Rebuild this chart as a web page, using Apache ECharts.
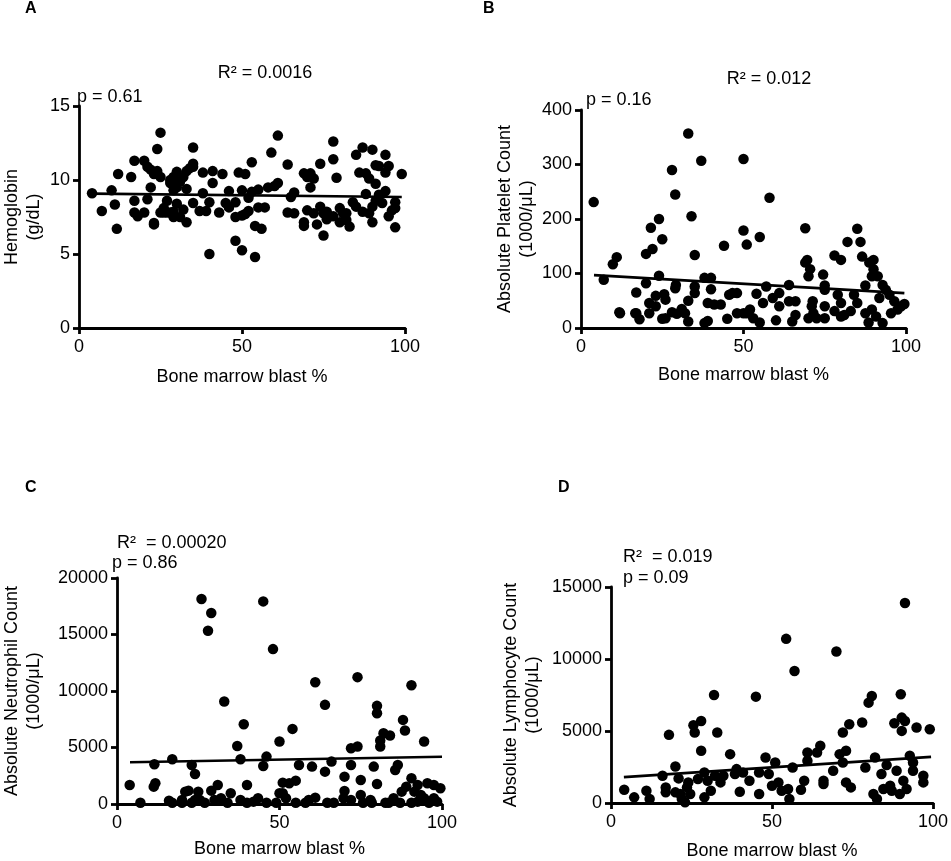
<!DOCTYPE html>
<html><head><meta charset="utf-8">
<script src="https://cdn.jsdelivr.net/npm/echarts@6/dist/echarts.min.js"></script>
<style>html,body{margin:0;padding:0;background:#fff}#c{width:951px;height:861px}</style>
</head><body><div id="c"></div>
<script>
// ---- Data ----
const xTicks = [0, 50, 100];
const hemoglobin = [[4,9.1],[7,7.9],[10,9.3],[11,8.35],[12,10.4],[11.6,6.7],[16,10.2],[17,11.3],[17,8.6],[17,7.8],[18,7.55],[20,7.8],[20,11.3],[21,10.9],[21,8.7],[22,9.5],[22,10.7],[23,10.4],[23,7.1],[23,7.0],[24,12.1],[24,10.6],[25,13.2],[25,10.2],[25,7.8],[26,7.8],[26,8.1],[27,8.6],[27,7.8],[28,7.8],[28,9.8],[29,7.85],[29,7.5],[29,10.2],[29,9.3],[30,10.55],[30,8.4],[30,9.5],[31,7.5],[32,8.0],[32,10.2],[33,7.15],[33,9.4],[33,10.6],[34,10.8],[35,11.1],[35,12.2],[35,8.45],[35,10.9],[37,7.9],[38,10.5],[38,9.1],[39,7.9],[40,8.5],[40,5.0],[41,10.6],[41,9.8],[43,7.8],[44,10.4],[45,8.45],[46,9.25],[46,8.15],[48,8.5],[48,7.5],[48,5.9],[49,10.5],[50,9.3],[50,7.6],[50,5.25],[51,10.4],[51,7.7],[52,7.9],[52,8.8],[53,11.2],[53,9.2],[54,6.9],[54,4.8],[55,9.35],[55,8.15],[56,6.7],[57,8.15],[58,9.5],[59,11.85],[60,9.6],[61,9.8],[61,13.0],[64,11.05],[64,7.8],[65,8.85],[66,9.15],[66,7.75],[69,10.45],[69,7.15],[69,6.9],[70,7.95],[70,10.2],[71,9.5],[71,10.45],[72,10.1],[72,7.75],[73,7.0],[74,11.1],[74,8.2],[75,6.25],[75,7.75],[76,7.85],[78,12.6],[78,11.4],[78,7.55],[79,10.15],[80,8.1],[80,7.15],[81,7.75],[82,7.75],[83,6.85],[84,8.5],[85,11.7],[86,10.5],[87,12.2],[87,7.85],[88,10.45],[88,9.05],[89,10.1],[90,12.05],[90,7.15],[91,11.0],[91,9.75],[92,10.95],[92,9.0],[93,8.45],[94,11.7],[94,10.5],[94,9.25],[95,10.95],[95,7.55],[96,7.95],[97,8.5],[97,6.8],[99,10.4],[91,8.6],[89,7.75],[85,8.2],[82,7.3],[76,7.35],[90,8.2],[97,8.1],[28,10.0],[31,9.9]];
const hemoglobinFit = [[4,9.08],[99,8.85]];

const platelet = [[3.9,231],[7,88.5],[9.8,117],[11,130],[11.8,29],[12,27],[17,65],[17,27],[18,16],[16.7,27],[20,136],[20,82],[21,27],[21,46],[21.5,184],[22,145],[23,40],[23,59],[24,200],[24,96],[25,163],[25,17],[25.6,62],[26,52],[26,18],[28,290],[28,29],[29,245],[29,73],[29.2,79],[29.5,26],[31,35],[32,27],[33,50],[33,357],[33,12],[34,205],[35,134],[35,64],[35,76],[37,307],[38,92],[38,9],[39,13],[40,92],[40,71],[39,46],[41,43],[43,43],[44,151],[45,17],[45.6,61],[46.6,64],[48,64],[48,27],[50,310],[50,179],[50,27],[51,153],[51,27],[52,34],[53,18],[54,63],[55,167],[55,10],[56,46],[57,76],[58,239],[59,55],[60,14],[61,40],[61,64],[64,49],[64,79],[65,12],[66,49],[66,24],[69,183],[69,120],[69.6,125],[70,95],[70.5,108],[70,18],[71,40],[71.3,49],[71.5,27],[72.5,18],[74.5,98],[75,18],[75,78],[75,40],[75,70],[78,133],[78,31],[80,125],[79,61],[80,46],[80,21],[81,24],[82,158],[83,31],[84,61],[85,182],[85,46],[86,158],[86.5,131],[87.5,78],[87.5,27],[88.5,10],[88.7,120],[89.5,34],[89.5,95],[90,125],[90,108],[90.8,21],[91.3,95],[91.8,55],[92.8,79],[92.8,9],[93.8,70],[94.9,61],[95.4,27],[96.4,49],[97.4,34],[98.5,40],[99.5,44]];
const plateletFit = [[4,97],[99.5,64]];

const neutrophil = [[3.9,1684],[7.2,118],[11.3,1536],[11.8,1830],[11.5,3515],[16,295],[17,118],[17,3958],[20,354],[21,1093],[22,1181],[23,3456],[24,2658],[25,1093],[26,18137],[28,15331],[29,16897],[29,1181],[31,1684],[33,9069],[35,945],[37,5140],[38,3958],[39,7060],[40,1684],[45,17930],[45,3367],[46,4195],[48,13706],[50,5524],[50,945],[51,1890],[53,1830],[54,6646],[55,2068],[56,3456],[60,3308],[61,10782],[61,561],[64,8773],[64,2865],[66,3751],[70,2422],[70,1152],[72,4933],[72,3456],[74,5081],[74,11225],[75,2127],[75,798],[78,354],[79,3308],[80,1772],[80,8685],[80,8035],[81,5081],[81,5612],[82,6262],[84,6056],[85.6,3013],[86.4,3456],[88,7444],[88.6,6499],[90.6,10516],[90.6,2275],[87.6,1093],[89,1536],[91.5,1093],[94.5,5524],[95.5,1830],[97.5,1684],[97.5,502],[99.5,1388],[92.5,1684],[20,118],[23,118],[24,354],[27,118],[30,354],[32,502],[34,118],[38,354],[40,118],[42,207],[43.4,502],[46,118],[49,118],[52,502],[55,118],[58,118],[59,354],[64.7,118],[66.7,118],[69.7,502],[72,354],[75.7,118],[78.4,118],[82.6,118],[83.6,118],[85.1,502],[87.1,118],[90.6,118],[92.5,207],[94.5,502],[96,118],[98.5,207],[93.5,798],[51,945],[25.5,354]];
const neutrophilFit = [[4,3700],[100,4180]];

const lymphocyte = [[4.1,923],[7.2,392],[11,854],[12,277],[16,1893],[17,1085],[17,739],[18,4731],[20,2539],[20,739],[21,1708],[21.5,623],[22,277],[23,46],[23.6,1085],[24,1431],[24.6,623],[25.6,5400],[26,4893],[27,1662],[28,5700],[28,3623],[29,2123],[29,392],[30,1546],[31,854],[32,7500],[32.3,1893],[33,4893],[34,1431],[34.9,1893],[37,3393],[38.5,2008],[39,2354],[40,785],[41,2123],[43,1546],[45,7385],[46,623],[46,2123],[48,3162],[49,2008],[50,1200],[51,2816],[52,1431],[53,854],[54.4,11400],[55,969],[55.4,277],[56.4,2470],[57,9162],[59,923],[60,1546],[61,3508],[61,2931],[64,3508],[65,3970],[66,1546],[66,1315],[69,2239],[70,10524],[71,3393],[72,2816],[72,4893],[73,3623],[74,5470],[73,1431],[74.5,1085],[78,5585],[79,2470],[80,6970],[81,7431],[82,3162],[82.6,277],[81.5,623],[84,2008],[85.6,2631],[86.7,1200],[88,5539],[88.7,2239],[90,7547],[90.3,5931],[90.3,5008],[91.3,5700],[91.3,13894],[90.8,1546],[91.8,969],[92.8,3277],[93.8,2239],[94.9,5239],[97,1893],[97,1431],[99,5124],[84.6,969],[87.2,854],[89.7,623],[93.8,2816]];
const lymphocyteFit = [[4,1800],[99.4,3200]];

const panels = [
  {letter:'A', data:hemoglobin, fit:hemoglobinFit, yMax:15, yInt:5, yName:'Hemoglobin\n(g/dL)',
   grid:{left:72, top:106, width:333, height:222}, yGap:34, xGap:40},
  {letter:'B', data:platelet, fit:plateletFit, yMax:400, yInt:100, yName:'Absolute Platelet Count\n(1000/\u03bcL)',
   grid:{left:581, top:110, width:325, height:218}, yGap:37, xGap:38},
  {letter:'C', data:neutrophil, fit:neutrophilFit, yMax:20000, yInt:5000, yName:'Absolute Neutrophil Count\n(1000/\u03bcL)',
   grid:{left:106, top:578, width:336, height:226}, yGap:72, xGap:36},
  {letter:'D', data:lymphocyte, fit:lymphocyteFit, yMax:15000, yInt:5000, yName:'Absolute Lymphocyte Count\n(1000/\u03bcL)',
   grid:{left:611, top:587, width:325, height:217}, yGap:67, xGap:39}
];

const FONT = '"Liberation Sans", Arial, sans-serif';
const axisStyle = {
  axisLine:{show:true, onZero:false, lineStyle:{color:'#000', width:2.8}},
  axisTick:{show:true, length:6, lineStyle:{color:'#000', width:2.8}},
  splitLine:{show:false},
  axisLabel:{color:'#000', fontSize:18, fontFamily:FONT, formatter:v=>String(v)}
};

const grids=[], xAxes=[], yAxes=[], series=[];
panels.forEach((p,i)=>{
  grids.push(Object.assign({}, p.grid));
  xAxes.push(Object.assign({type:'value', gridIndex:i, min:xTicks[0], max:xTicks[2], interval:xTicks[1]-xTicks[0],
    name:'Bone marrow blast %', nameLocation:'middle', nameGap:p.xGap,
    nameTextStyle:{color:'#000', fontSize:18, fontFamily:FONT}}, axisStyle,
    {axisLabel:Object.assign({}, axisStyle.axisLabel, {margin:10})}));
  yAxes.push(Object.assign({type:'value', gridIndex:i, min:0, max:p.yMax, interval:p.yInt,
    name:p.yName, nameLocation:'middle', nameGap:p.yGap,
    nameTextStyle:{color:'#000', fontSize:18, fontFamily:FONT, lineHeight:22}}, axisStyle,
    {axisLabel:Object.assign({}, axisStyle.axisLabel, {margin:9})}));
  series.push({type:'scatter', xAxisIndex:i, yAxisIndex:i, data:p.data, symbol:'circle', symbolSize:10.5,
    itemStyle:{color:'#000', opacity:1}, clip:false, silent:true, z:3});
  series.push({type:'line', xAxisIndex:i, yAxisIndex:i, data:p.fit, symbol:'none',
    lineStyle:{color:'#000', width:2.6}, silent:true, z:4});
});

const txt = (x,y,text,align,extra)=>({type:'text', silent:true,
  style:Object.assign({x:x, y:y, text:text, align:align, verticalAlign:'middle', fill:'#000',
    font:'18px '+FONT}, extra||{})});
const bold = (x,y,t)=>txt(x,y,t,'left',{font:'bold 16px '+FONT});

const graphics = [
  bold(25,9,'A'), bold(483,9,'B'), bold(25,488,'C'), bold(558,488,'D'),
  txt(265,73,'R\u00b2 = 0.0016','center'),
  txt(77,97,'p = 0.61','left'),
  txt(769,79,'R\u00b2 = 0.012','center'),
  txt(586,100,'p = 0.16','left'),
  txt(117,543,'R\u00b2  = 0.00020','left'),
  txt(112,563,'p = 0.86','left'),
  txt(623,557,'R\u00b2  = 0.019','left'),
  txt(623,578,'p = 0.09','left')
];

const chart = echarts.init(document.getElementById('c'), null, {renderer:'canvas'});
chart.setOption({
  backgroundColor:'#fff', animation:false,
  grid:grids, xAxis:xAxes, yAxis:yAxes, series:series, graphic:graphics
});
</script></body></html>
